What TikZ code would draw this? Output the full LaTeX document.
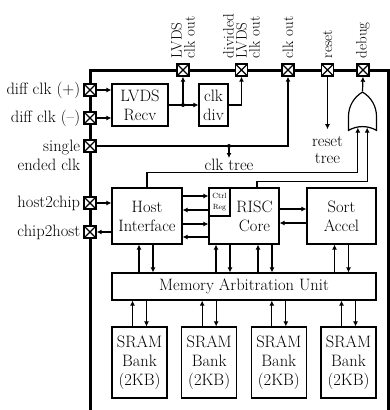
\documentclass[tikz,border=0pt]{standalone}
\usepackage{fontspec}
\usetikzlibrary{arrows.meta,positioning,shapes.gates.logic.US}

\begin{document}
\begin{tikzpicture}[x=1pt, y=-1pt,
  font=\fontsize{16.5}{19}\selectfont,
  blk/.style={draw, line width=1.2pt, align=center, minimum width=#1, inner sep=1pt},
  blk/.default=55pt,
  pad/.style={draw, line width=1.4pt, fill=white, minimum size=12pt, inner sep=0pt,
              path picture={\draw[line width=1.1pt]
                (path picture bounding box.north west) -- (path picture bounding box.south east)
                (path picture bounding box.north east) -- (path picture bounding box.south west);}},
  arr/.style={-{Latex[length=5pt,width=5pt]}, line width=1.2pt},
  toplbl/.style={rotate=90, anchor=west, align=left, inner sep=1pt,
                 font=\fontsize{15}{13}\selectfont},
  sidelbl/.style={anchor=east, align=right, inner sep=1pt},
  dot/.style={circle, fill, inner sep=0pt, minimum size=4pt}]
 \useasboundingbox (0,0) rectangle (390,410);
 % chip outline
 \draw[line width=3pt] (90,420) -- (90,70) -- (388,70) -- (388,420);
 % blocks
 \node[blk=56pt, minimum height=42pt] (lvds) at (140,105) {LVDS\\Recv};
 \node[blk=29pt, minimum height=42pt] (div) at (213.5,105) {clk\\div};
 \node[blk=70pt, minimum height=56pt] (host) at (147,216) {Host\\Interface};
 \node[blk=70pt, minimum height=56pt] (risc) at (244,216) {};
 \node[blk=21pt, minimum height=28pt, anchor=north west,
       font=\fontsize{7.5}{10.5}\selectfont] (ctrl) at (risc.north west) {Ctrl\\Reg};
 \node[align=center] (risclbl) at ([xshift=10.5pt]risc.center) {RISC\\Core};
 \node[blk=69pt, minimum height=56pt] (sort) at (341.5,216) {Sort\\Accel};
 \node[blk=264pt, minimum height=27pt] (mau) at (244,286.5) {Memory Arbitration Unit};
 \foreach \i in {1,...,4}
  \node[blk=55pt, minimum height=71pt] (bank\i) at ({139.5+(\i-1)*69.67},362.5) {SRAM\\Bank\\(2KB)};
 \node[or gate US, draw, line width=1.2pt, rotate=90, logic gate inputs=nn,
       minimum width=34pt, minimum height=28pt] (orgate) at (362.5,114) {};
 % pads
 \node[pad] (pp) at (90,90) {};
 \node[pad] (pm) at (90,118) {};
 \node[pad] (se) at (90,146) {};
 \node[pad] (h2c) at (90,203) {};
 \node[pad] (c2h) at (90,232) {};
 \node[pad] (lvdsout) at (183,70) {};
 \node[pad] (divout) at (241.5,70) {};
 \node[pad] (clkout) at (288,70) {};
 \node[pad] (rst) at (327.5,70) {};
 \node[pad] (dbg) at (363,70) {};
 % pad labels
 \node[sidelbl] (lpp) at ([xshift=-2pt]pp.west) {diff clk (+)};
 \node[sidelbl] (lpm) at ([xshift=-2pt]pm.west) {diff clk (--)};
 \node[sidelbl, anchor=north east] (lse) at ([xshift=-2pt, yshift=7.5pt]se.west) {single\\ended clk};
 \node[sidelbl] (lh2c) at ([xshift=-2pt]h2c.west) {host2chip};
 \node[sidelbl] (lc2h) at ([xshift=-2pt]c2h.west) {chip2host};
 \node[toplbl] (llvdsout) at ([yshift=4pt]lvdsout.north) {LVDS\\clk out};
 \node[toplbl] (ldivout) at ([yshift=4pt]divout.north) {divided\\LVDS\\clk out};
 \node[toplbl] (lclkout) at ([yshift=4pt]clkout.north) {clk out};
 \node[toplbl] (lrst) at ([yshift=4pt]rst.north) {reset};
 \node[toplbl] (ldbg) at ([yshift=4pt]dbg.north) {debug};
 \node[inner sep=1pt] (clktree) at (229,165) {clk tree};
 \node[align=center, inner sep=1pt, font=\fontsize{16.5}{17}\selectfont] (rsttree) at (327.5,150) {reset\\tree};
 % clocks
 \draw[arr] (pp.east) -- (pp.east -| lvds.west);
 \draw[arr] (pm.east) -- (pm.east -| lvds.west);
 \draw[line width=1.2pt] (lvds.east) -- (lvds.east -| lvdsout) coordinate (jn);
 \node[dot] (jnd) at (jn) {};
 \draw[arr] (jn) -- (lvdsout.south);
 \draw[arr] (jn) -- (div.west);
 \draw[arr] (div.east) -| (divout.south);
 \draw[arr] (se.east) -| (clkout.south);
 \node[dot] (ctd) at (clktree.north |- se) {};
 \draw[arr] (ctd) -- (clktree.north);
 \draw[arr] (rst.south) -- ([yshift=6pt]rsttree.north);
 % debug
 \draw[arr] (orgate.output) -- (dbg.south);
 \draw[arr] (host.north) -- ++(0,-15) -| (orgate.input 1);
 \draw[arr] ([xshift=13pt]risc.north) -- ++(0,-6) -| (orgate.input 2);
 % host and cores
 \draw[arr] (h2c.east) -- (h2c.east -| host.west);
 \draw[arr] (c2h.east -| host.west) -- (c2h.east);
 \draw[arr] ([yshift=20pt]host.east) -- ([yshift=20pt]host.east -| ctrl.west);
 \draw[arr] ([yshift=6pt]host.east -| ctrl.west) -- ([yshift=6pt]host.east);
 \draw[arr] ([yshift=-8pt]host.east) -- ([yshift=-8pt]host.east -| risc.west);
 \draw[arr] ([yshift=-21pt]host.east -| risc.west) -- ([yshift=-21pt]host.east);
 \draw[arr] ([yshift=7pt]risc.east) -- ([yshift=7pt]risc.east -| sort.west);
 \draw[arr] ([yshift=-7pt]risc.east -| sort.west) -- ([yshift=-7pt]risc.east);
 % memory
 \foreach \n/\u/\d in {host/-8/6, risc/-28/-14, risc/14/28, sort/-7/7} {
  \draw[arr] ([xshift=\u pt]\n.south |- mau.north) -- ([xshift=\u pt]\n.south);
  \draw[arr] ([xshift=\d pt]\n.south) -- ([xshift=\d pt]\n.south |- mau.north);
 }
 \foreach \i in {1,...,4} {
  \draw[arr] ([xshift=-7pt]bank\i.north) -- ([xshift=-7pt]bank\i.north |- mau.south);
  \draw[arr] ([xshift=7pt]bank\i.north |- mau.south) -- ([xshift=7pt]bank\i.north);
 }
\end{tikzpicture}
\end{document}
